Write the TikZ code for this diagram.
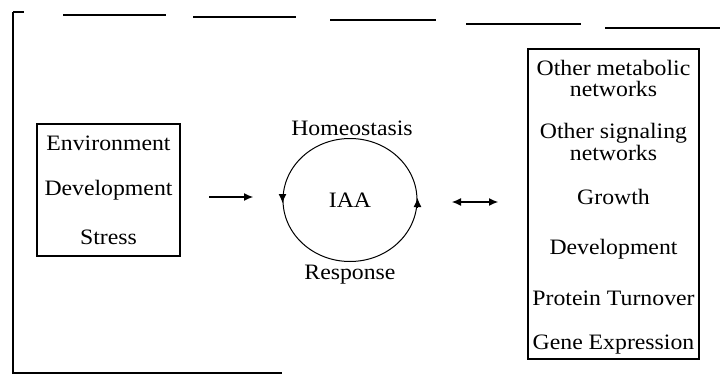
\documentclass[tikz,border=0pt]{standalone}
\usepackage{fontspec}
\setmainfont{Liberation Serif}[FakeStretch=1.08]
\usetikzlibrary{arrows.meta,shapes.geometric}
\tikzset{
  txt/.style={inner sep=0pt, font=\fontsize{22}{25}\selectfont, anchor=center},
  boxnode/.style={draw, line width=1.2pt, inner sep=0pt},
  framepart/.style={line width=1.1pt},
  conn/.style={line width=1.1pt, -{Latex[length=9pt,width=8pt]}},
  bconn/.style={line width=1.1pt, {Latex[length=9pt,width=8pt]}-{Latex[length=9pt,width=8pt]}},
  cyctip/.style={line width=1pt, -{Latex[length=9pt,width=8pt]}}
}
\begin{document}
\begin{tikzpicture}[x=1pt,y=-1pt]
\useasboundingbox (0,0) rectangle (720,383);
% outer frame (broken scan lines)
\coordinate (f1) at (13,12);
\coordinate (f2) at (13,373);
\coordinate (f3) at (282,373);
\draw[framepart] (f1) -- (f2) -- (f3);
\coordinate (t0a) at (13,12); \coordinate (t0b) at (24,12);
\draw[framepart] (t0a) -- (t0b);
\coordinate (t1a) at (63,15); \coordinate (t1b) at (166,15);
\coordinate (t2a) at (193,17); \coordinate (t2b) at (296,17);
\coordinate (t3a) at (330,20); \coordinate (t3b) at (436,20);
\coordinate (t4a) at (466,24); \coordinate (t4b) at (581,24);
\coordinate (t5a) at (605,28); \coordinate (t5b) at (720,28);
\foreach \p in {t1,t2,t3,t4,t5} \draw[framepart] (\p a) -- (\p b);
% left box
\node[boxnode, minimum width=143pt, minimum height=132pt] (lbox) at (108.5,190) {};
\node[txt] (env) at (108.5,143) {Environment};
\node[txt] (dev) at (108.5,190) {Development};
\node[txt] (str) at (108.5,237) {Stress};
% cycle
\node[ellipse, draw, line width=1pt, minimum width=134pt, minimum height=123pt, inner sep=0pt] (cyc) at (350,200) {};
\node[txt] (iaa) at (350,200) {IAA};
\node[txt] (hom) at (352,128) {Homeostasis};
\node[txt] (res) at (350,275) {Response};
\draw[cyctip] ([yshift=6pt]cyc.west) -- ([yshift=-3pt]cyc.west);
\draw[cyctip] ([yshift=-7pt]cyc.east) -- ([yshift=2pt]cyc.east);
% arrows
\coordinate (a1) at (209,197);
\coordinate (a2) at (253,197);
\draw[conn] (a1) -- (a2);
\coordinate (b1) at (452,202);
\coordinate (b2) at (498,202);
\draw[bconn] (b1) -- (b2);
% right box
\node[boxnode, minimum width=171pt, minimum height=310pt] (rbox) at (613.5,204) {};
\node[txt] (r1) at (613.5,68) {Other metabolic};
\node[txt] (r2) at (613.5,89) {networks};
\node[txt] (r3) at (613.5,133) {Other signaling};
\node[txt] (r4) at (613.5,153) {networks};
\node[txt] (r5) at (613.5,197) {Growth};
\node[txt] (r6) at (613.5,249) {Development};
\node[txt] (r7) at (613.5,298) {Protein Turnover};
\node[txt] (r8) at (613.5,345) {Gene Expression};
\end{tikzpicture}
\end{document}
